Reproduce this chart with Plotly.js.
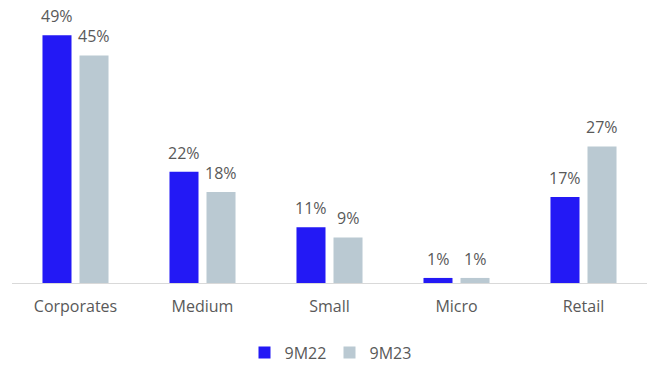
<!DOCTYPE html>
<html><head><meta charset="utf-8">
<script src="https://cdn.plot.ly/plotly-3.0.1.min.js"></script>
<style>body{margin:0;background:#fff}#c{width:655px;height:367px}</style>
</head><body><div id="c"></div>
<script>
const categories = ["Corporates", "Medium", "Small", "Micro", "Retail"];
const s9M22 = [49, 22, 11, 1, 17];
const s9M23 = [45, 18, 9, 1, 27];
const seriesNames = ["9M22", "9M23"];
const colors = ["#2319F5", "#BAC9D2"];
const fnt = {family: "Open Sans, Liberation Sans, sans-serif", size: 16, color: "#595959"};
const bargap = 0.417, bargroupgap = 0.216;
const idx = categories.map((c, i) => i);
const mk = (name, vals, color) => ({
  type: "bar", name: name, x: idx, y: vals,
  marker: {color: color}, hoverinfo: "skip"
});
const slot = (1 - bargap) / 2;
const annotations = [];
[s9M22, s9M23].forEach((vals, k) => {
  vals.forEach((v, i) => {
    annotations.push({x: i + (k === 0 ? -slot / 2 : slot / 2), y: v, xref: "x", yref: "y",
      text: v + "%", showarrow: false, yanchor: "bottom", yshift: 6, font: fnt});
  });
});
Plotly.newPlot("c", [mk(seriesNames[0], s9M22, colors[0]), mk(seriesNames[1], s9M23, colors[1])], {
  width: 655, height: 367,
  margin: {l: 12, r: 8, t: 20, b: 84, autoexpand: false},
  paper_bgcolor: "#fff", plot_bgcolor: "#fff",
  barmode: "group", bargap: bargap, bargroupgap: bargroupgap,
  font: fnt,
  annotations: annotations,
  xaxis: {showline: true, linecolor: "#D9D9D9", linewidth: 1, ticks: "", tickfont: fnt,
    tickmode: "array", tickvals: idx, ticktext: categories, range: [-0.5, 4.5],
    showgrid: false, zeroline: false, ticklabelstandoff: 9, automargin: false},
  yaxis: {range: [0, 52], visible: false, showgrid: false, zeroline: false, automargin: false},
  legend: {orientation: "h", x: 0.5, xanchor: "center", y: -0.2, yanchor: "top", font: fnt,
    itemwidth: 30, entrywidth: 40, traceorder: "normal"},
  showlegend: true
}, {displayModeBar: false, staticPlot: true});
</script></body></html>
